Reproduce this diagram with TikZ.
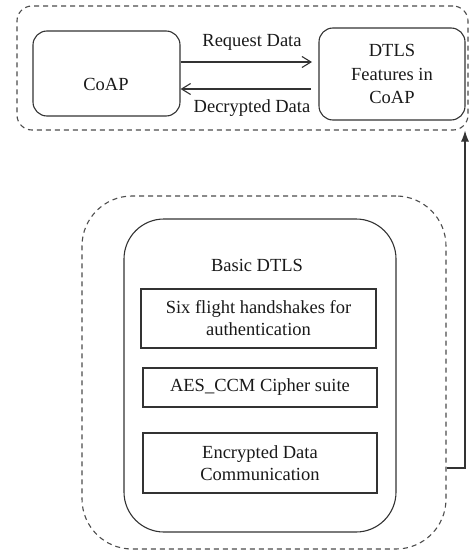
\documentclass[tikz,border=0pt]{standalone}
\usepackage{fontspec}
\setmainfont{Liberation Serif}
\usetikzlibrary{arrows.meta}
\begin{document}
\begin{tikzpicture}[x=1pt,y=-1pt,
  every node/.style={font=\fontsize{18.5}{22}\selectfont, text=black!90, align=center, inner sep=0pt},
  dashbox/.style={draw=black!70, line width=1.1pt, dash pattern=on 5pt off 4pt},
  roundbox/.style={draw=black!80, line width=1.1pt},
  plainbox/.style={draw=black!80, line width=1.1pt},
  conn/.style={draw=black!80, line width=1.1pt}]
\useasboundingbox (0,0) rectangle (470,551);
% top group
\node[dashbox, rounded corners=15pt, minimum width=451pt, minimum height=124pt] (topgrp) at (242.5,68) {};
\node[roundbox, rounded corners=14pt, minimum width=147pt, minimum height=85pt] (coap) at (106.5,73.5) {};
\node (coaptext) at (106,84) {CoAP};
\node[roundbox, rounded corners=14pt, minimum width=146pt, minimum height=92pt, font=\fontsize{18.5}{23.5}\selectfont] (dtls) at (392,74) {DTLS\\Features in\\CoAP};
\coordinate (reqend) at (312,62);
\coordinate (decstart) at (311,89);
\draw[conn, -{Straight Barb[length=9pt,width=11pt]}] (coap.east |- reqend) -- (reqend);
\draw[conn, -{Straight Barb[length=9pt,width=11pt]}] (decstart) -- (coap.east |- decstart);
\node (reqlbl) at (252,42) {Request Data};
\node (declbl) at (252,108) {Decrypted Data};
% bottom group
\node[dashbox, rounded corners=50pt, minimum width=364pt, minimum height=353pt] (botgrp) at (264,372.5) {};
\node[roundbox, rounded corners=40pt, minimum width=272pt, minimum height=313pt] (basic) at (260,375.5) {};
\node (basictext) at (257,265) {Basic DTLS};
\node[plainbox, minimum width=235pt, minimum height=59pt] (six) at (258.5,318.5) {Six flight handshakes for\\authentication};
\node[plainbox, minimum width=234pt, minimum height=39pt] (aes) at (260,387.5) {AES\_CCM Cipher suite};
\node[plainbox, minimum width=234pt, minimum height=60pt] (enc) at (260,463) {Encrypted Data\\Communication};
% feedback arrow
\coordinate (turn) at (465,468);
\draw[conn, -{Latex[length=11pt,width=8pt]}] (botgrp.east |- turn) -- (turn) -- (turn |- topgrp.south);
\end{tikzpicture}
\end{document}
